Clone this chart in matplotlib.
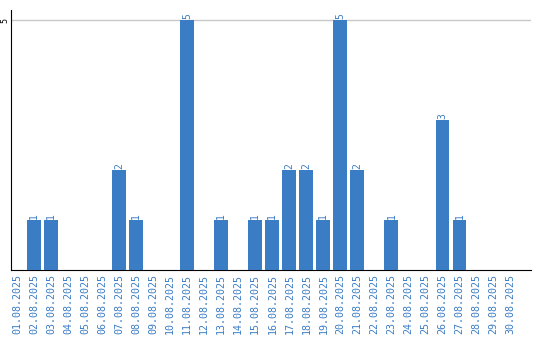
import matplotlib
matplotlib.use("Agg")
import matplotlib.pyplot as plt

dates = [f"{d:02d}.08.2025" for d in range(1, 31)]
values = [0, 1, 1, 0, 0, 0, 2, 1, 0, 0, 5, 0, 1, 0, 1, 1, 2, 2, 1, 5, 2, 0, 1, 0, 0, 3, 1, 0, 0, 0]

blue = "#3b7dc4"
fig = plt.figure(figsize=(5.4, 3.4), dpi=100)
ax = fig.add_axes([10.5/540, 70/340, (531-10.5)/540, 260/340])
x = list(range(len(dates)))
ax.bar(x, values, width=0.82, color=blue, zorder=3)
ax.set_xlim(-0.38, 30.2)
ax.set_ylim(0, 5.2)
ax.set_yticks([5])
ax.set_yticklabels(["5"], rotation=90, fontsize=6, family="DejaVu Sans Mono", va="center")
ax.yaxis.grid(True, color="#c8c8c8", linewidth=1, zorder=0)
ax.tick_params(axis="y", length=0, pad=0.5)
ax.set_xticks(x)
ax.set_xticklabels(dates, rotation=90, fontsize=7.2, family="DejaVu Sans Mono", color=blue)
ax.tick_params(axis="x", length=0, pad=3)
for s in ["top", "right"]:
    ax.spines[s].set_visible(False)
ax.spines["left"].set_color("black")
ax.spines["bottom"].set_color("black")
for xi, v in zip(x, values):
    if v > 0:
        ax.text(xi, v + 0.02, str(v), rotation=90, ha="center", va="bottom",
                fontsize=7, color=blue, family="DejaVu Sans Mono")
fig.savefig("out.png", dpi=100)
